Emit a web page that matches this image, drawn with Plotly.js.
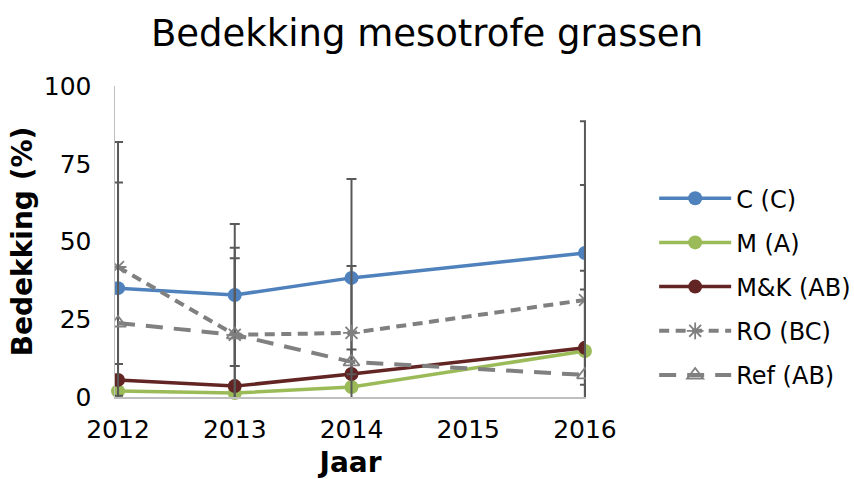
<!DOCTYPE html>
<html>
<head>
<meta charset="utf-8">
<script src="https://cdn.plot.ly/plotly-3.0.1.min.js"></script>
<style>html,body{margin:0;padding:0;background:#fff;}#chart{width:854px;height:479px;}</style>
</head>
<body>
<div id="chart"></div>
<script>
const years = [2012, 2013, 2014, 2016];
const xTicks = [2012, 2013, 2014, 2015, 2016];
const seriesNames = ['C (C)', 'M (A)', 'M&K (AB)', 'RO (BC)', 'Ref (AB)'];
const valC   = [35.0, 32.8, 38.3, 46.3];
const valM   = [1.9, 1.3, 3.2, 14.8];
const valMK  = [5.5, 3.5, 7.4, 15.8];
const valRO  = [41.8, 20.0, 20.6, 31.2];
const valRef = [23.8, 20.0, 11.3, 7.1];
const errC   = [47.0, 22.8, 31.8, 42.4];
const errMK  = [5.1, null, null, 24.8];
const errRO  = [null, 28.0, 21.5, 37.0];
const errRef = [45.2, 24.6, 4.0, 27.5];

const errStyle = (arr) => ({type: 'data', array: arr, symmetric: true, visible: true,
  color: '#595959', thickness: 2, width: 5});

const traces = [
  {name: seriesNames[0], x: years, y: valC, error_y: errStyle(errC), mode: 'lines+markers',
   line: {color: '#4F81BD', width: 3.5}, marker: {color: '#4F81BD', size: 14, symbol: 'circle'}, legendgroup: 'a'},
  {name: seriesNames[1], x: years, y: valM, mode: 'lines+markers', cliponaxis: false,
   line: {color: '#9BBB59', width: 3.5}, marker: {color: '#9BBB59', size: 14, symbol: 'circle'}, legendgroup: 'b'},
  {name: seriesNames[2], x: years, y: valMK, error_y: errStyle(errMK), mode: 'lines+markers',
   line: {color: '#632523', width: 3.5}, marker: {color: '#632523', size: 14, symbol: 'circle'}, legendgroup: 'c'},
  {name: seriesNames[3], x: years, y: valRO, error_y: errStyle(errRO), mode: 'lines+markers',
   line: {color: '#808080', width: 4, dash: '10px,6.5px'},
   marker: {color: '#808080', size: 14, symbol: 'asterisk-open', line: {color: '#808080', width: 1.8}}, legendgroup: 'd'},
  {name: seriesNames[4], x: years, y: valRef, error_y: errStyle(errRef), mode: 'lines+markers',
   line: {color: '#808080', width: 4, dash: '17px,11px'},
   marker: {color: '#808080', size: 14, symbol: 'triangle-up-open', line: {color: '#808080', width: 1.8}}, legendgroup: 'e'}
];

const layout = {
  width: 854, height: 479,
  margin: {l: 115, r: 268, t: 86, b: 82},
  paper_bgcolor: '#fff', plot_bgcolor: '#fff',
  font: {family: 'DejaVu Sans, Verdana, sans-serif', color: '#000', size: 25},
  title: {text: 'Bedekking mesotrofe grassen', font: {size: 37, color: '#000'}, x: 0.5, xanchor: 'center', y: 0.93, yanchor: 'middle'},
  xaxis: {
    range: [2011.974, 2016.009], tickvals: xTicks, ticktext: xTicks.map(String),
    showgrid: false, zeroline: false, showline: true, linecolor: '#BFBFBF', linewidth: 1.5,
    ticks: '', tickfont: {size: 25}, ticklabelstandoff: 9,
    title: {text: '<b>Jaar</b>', font: {size: 28}, standoff: 20}
  },
  yaxis: {
    range: [0, 100], tickvals: [0, 25, 50, 75, 100],
    showgrid: false, zeroline: false, showline: true, linecolor: '#BFBFBF', linewidth: 1.5,
    ticks: '', tickfont: {size: 25}, ticklabelstandoff: 17,
    title: {text: '<b>Bedekking (%)</b>', font: {size: 28}, standoff: 3}
  },
  showlegend: true,
  legend: {x: 0.766, xanchor: 'left', xref: 'container', y: 0.355, yanchor: 'middle', yref: 'paper',
    font: {size: 24}, traceorder: 'grouped', tracegroupgap: 10, itemwidth: 72, bgcolor: 'rgba(0,0,0,0)'}
};

Plotly.newPlot('chart', traces, layout, {displayModeBar: false, staticPlot: true});
</script>
</body>
</html>
